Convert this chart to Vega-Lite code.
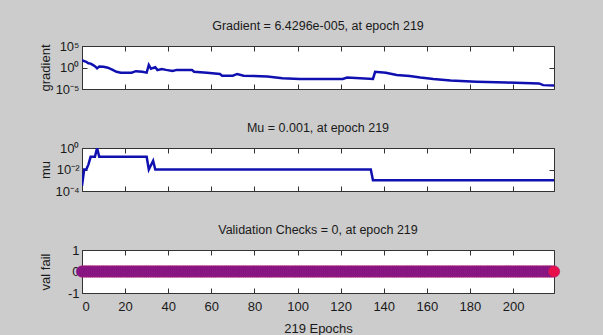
{
  "$schema": "https://vega.github.io/schema/vega-lite/v6.json",
  "background": "#cccccc",
  "padding": {"left": 38, "top": 19, "right": 49, "bottom": 2},
  "config": {
    "font": "Liberation Sans",
    "view": {"fill": "white", "stroke": "#333333", "strokeWidth": 1},
    "axis": {"grid": false, "domain": false, "tickColor": "#333333", "tickSize": -5, "tickWidth": 1, "labelColor": "#1a1a1a", "labelFont": "Liberation Sans", "labelFontSize": 13, "titleFont": "Liberation Sans", "titleFontSize": 13, "titleFontWeight": "normal", "titleColor": "#1a1a1a", "labelPadding": 8},
    "title": {"font": "Liberation Sans", "fontSize": 12.5, "fontWeight": "normal", "color": "#1a1a1a", "offset": 8},
    "concat": {"spacing": 24}
  },
  "datasets": {
    "grad": [
      {"epoch": 0, "gradient": 50}, {"epoch": 1, "gradient": 31.6}, {"epoch": 2, "gradient": 20}, {"epoch": 3, "gradient": 10},
      {"epoch": 4, "gradient": 7.9}, {"epoch": 5, "gradient": 4}, {"epoch": 6, "gradient": 2}, {"epoch": 7, "gradient": 0.63},
      {"epoch": 8, "gradient": 1.58}, {"epoch": 10, "gradient": 1.41}, {"epoch": 12, "gradient": 0.89}, {"epoch": 14, "gradient": 0.32},
      {"epoch": 16, "gradient": 0.1}, {"epoch": 18, "gradient": 0.063}, {"epoch": 23, "gradient": 0.063}, {"epoch": 25, "gradient": 0.141},
      {"epoch": 28, "gradient": 0.1}, {"epoch": 30, "gradient": 0.063}, {"epoch": 31, "gradient": 3.98}, {"epoch": 32, "gradient": 0.5},
      {"epoch": 33, "gradient": 0.79}, {"epoch": 34, "gradient": 1.12}, {"epoch": 35, "gradient": 0.25}, {"epoch": 37, "gradient": 0.45},
      {"epoch": 39, "gradient": 0.28}, {"epoch": 42, "gradient": 0.158}, {"epoch": 44, "gradient": 0.28}, {"epoch": 51, "gradient": 0.28},
      {"epoch": 52, "gradient": 0.1}, {"epoch": 58, "gradient": 0.063}, {"epoch": 64, "gradient": 0.0316}, {"epoch": 65, "gradient": 0.0126},
      {"epoch": 70, "gradient": 0.0126}, {"epoch": 72, "gradient": 0.0316}, {"epoch": 75, "gradient": 0.0126}, {"epoch": 86, "gradient": 0.0079},
      {"epoch": 93, "gradient": 0.00316}, {"epoch": 101, "gradient": 0.00224}, {"epoch": 121, "gradient": 0.00214}, {"epoch": 123, "gradient": 0.00447},
      {"epoch": 135, "gradient": 0.00214}, {"epoch": 136, "gradient": 0.1}, {"epoch": 141, "gradient": 0.063}, {"epoch": 146, "gradient": 0.0178},
      {"epoch": 152, "gradient": 0.01}, {"epoch": 157, "gradient": 0.00447}, {"epoch": 163, "gradient": 0.002}, {"epoch": 171, "gradient": 0.00089},
      {"epoch": 183, "gradient": 0.0005}, {"epoch": 197, "gradient": 0.000316}, {"epoch": 212, "gradient": 0.0002}, {"epoch": 214, "gradient": 0.0000794},
      {"epoch": 219, "gradient": 0.0000643}
    ],
    "mu": [
      {"epoch": 0, "mu": 0.0003}, {"epoch": 1, "mu": 0.01}, {"epoch": 2, "mu": 0.01}, {"epoch": 3, "mu": 0.03},
      {"epoch": 4, "mu": 0.15}, {"epoch": 6, "mu": 0.15}, {"epoch": 7, "mu": 1}, {"epoch": 8, "mu": 0.15},
      {"epoch": 30, "mu": 0.15}, {"epoch": 31, "mu": 0.01}, {"epoch": 33, "mu": 0.065}, {"epoch": 34, "mu": 0.01},
      {"epoch": 134, "mu": 0.01}, {"epoch": 135, "mu": 0.001}, {"epoch": 219, "mu": 0.001}
    ],
    "val": [
      {"epoch":0,"val_fail":0},{"epoch":1,"val_fail":0},{"epoch":2,"val_fail":0},{"epoch":3,"val_fail":0},{"epoch":4,"val_fail":0},{"epoch":5,"val_fail":0},{"epoch":6,"val_fail":0},{"epoch":7,"val_fail":0},{"epoch":8,"val_fail":0},{"epoch":9,"val_fail":0},
      {"epoch":10,"val_fail":0},{"epoch":11,"val_fail":0},{"epoch":12,"val_fail":0},{"epoch":13,"val_fail":0},{"epoch":14,"val_fail":0},{"epoch":15,"val_fail":0},{"epoch":16,"val_fail":0},{"epoch":17,"val_fail":0},{"epoch":18,"val_fail":0},{"epoch":19,"val_fail":0},
      {"epoch":20,"val_fail":0},{"epoch":21,"val_fail":0},{"epoch":22,"val_fail":0},{"epoch":23,"val_fail":0},{"epoch":24,"val_fail":0},{"epoch":25,"val_fail":0},{"epoch":26,"val_fail":0},{"epoch":27,"val_fail":0},{"epoch":28,"val_fail":0},{"epoch":29,"val_fail":0},
      {"epoch":30,"val_fail":0},{"epoch":31,"val_fail":0},{"epoch":32,"val_fail":0},{"epoch":33,"val_fail":0},{"epoch":34,"val_fail":0},{"epoch":35,"val_fail":0},{"epoch":36,"val_fail":0},{"epoch":37,"val_fail":0},{"epoch":38,"val_fail":0},{"epoch":39,"val_fail":0},
      {"epoch":40,"val_fail":0},{"epoch":41,"val_fail":0},{"epoch":42,"val_fail":0},{"epoch":43,"val_fail":0},{"epoch":44,"val_fail":0},{"epoch":45,"val_fail":0},{"epoch":46,"val_fail":0},{"epoch":47,"val_fail":0},{"epoch":48,"val_fail":0},{"epoch":49,"val_fail":0},
      {"epoch":50,"val_fail":0},{"epoch":51,"val_fail":0},{"epoch":52,"val_fail":0},{"epoch":53,"val_fail":0},{"epoch":54,"val_fail":0},{"epoch":55,"val_fail":0},{"epoch":56,"val_fail":0},{"epoch":57,"val_fail":0},{"epoch":58,"val_fail":0},{"epoch":59,"val_fail":0},
      {"epoch":60,"val_fail":0},{"epoch":61,"val_fail":0},{"epoch":62,"val_fail":0},{"epoch":63,"val_fail":0},{"epoch":64,"val_fail":0},{"epoch":65,"val_fail":0},{"epoch":66,"val_fail":0},{"epoch":67,"val_fail":0},{"epoch":68,"val_fail":0},{"epoch":69,"val_fail":0},
      {"epoch":70,"val_fail":0},{"epoch":71,"val_fail":0},{"epoch":72,"val_fail":0},{"epoch":73,"val_fail":0},{"epoch":74,"val_fail":0},{"epoch":75,"val_fail":0},{"epoch":76,"val_fail":0},{"epoch":77,"val_fail":0},{"epoch":78,"val_fail":0},{"epoch":79,"val_fail":0},
      {"epoch":80,"val_fail":0},{"epoch":81,"val_fail":0},{"epoch":82,"val_fail":0},{"epoch":83,"val_fail":0},{"epoch":84,"val_fail":0},{"epoch":85,"val_fail":0},{"epoch":86,"val_fail":0},{"epoch":87,"val_fail":0},{"epoch":88,"val_fail":0},{"epoch":89,"val_fail":0},
      {"epoch":90,"val_fail":0},{"epoch":91,"val_fail":0},{"epoch":92,"val_fail":0},{"epoch":93,"val_fail":0},{"epoch":94,"val_fail":0},{"epoch":95,"val_fail":0},{"epoch":96,"val_fail":0},{"epoch":97,"val_fail":0},{"epoch":98,"val_fail":0},{"epoch":99,"val_fail":0},
      {"epoch":100,"val_fail":0},{"epoch":101,"val_fail":0},{"epoch":102,"val_fail":0},{"epoch":103,"val_fail":0},{"epoch":104,"val_fail":0},{"epoch":105,"val_fail":0},{"epoch":106,"val_fail":0},{"epoch":107,"val_fail":0},{"epoch":108,"val_fail":0},{"epoch":109,"val_fail":0},
      {"epoch":110,"val_fail":0},{"epoch":111,"val_fail":0},{"epoch":112,"val_fail":0},{"epoch":113,"val_fail":0},{"epoch":114,"val_fail":0},{"epoch":115,"val_fail":0},{"epoch":116,"val_fail":0},{"epoch":117,"val_fail":0},{"epoch":118,"val_fail":0},{"epoch":119,"val_fail":0},
      {"epoch":120,"val_fail":0},{"epoch":121,"val_fail":0},{"epoch":122,"val_fail":0},{"epoch":123,"val_fail":0},{"epoch":124,"val_fail":0},{"epoch":125,"val_fail":0},{"epoch":126,"val_fail":0},{"epoch":127,"val_fail":0},{"epoch":128,"val_fail":0},{"epoch":129,"val_fail":0},
      {"epoch":130,"val_fail":0},{"epoch":131,"val_fail":0},{"epoch":132,"val_fail":0},{"epoch":133,"val_fail":0},{"epoch":134,"val_fail":0},{"epoch":135,"val_fail":0},{"epoch":136,"val_fail":0},{"epoch":137,"val_fail":0},{"epoch":138,"val_fail":0},{"epoch":139,"val_fail":0},
      {"epoch":140,"val_fail":0},{"epoch":141,"val_fail":0},{"epoch":142,"val_fail":0},{"epoch":143,"val_fail":0},{"epoch":144,"val_fail":0},{"epoch":145,"val_fail":0},{"epoch":146,"val_fail":0},{"epoch":147,"val_fail":0},{"epoch":148,"val_fail":0},{"epoch":149,"val_fail":0},
      {"epoch":150,"val_fail":0},{"epoch":151,"val_fail":0},{"epoch":152,"val_fail":0},{"epoch":153,"val_fail":0},{"epoch":154,"val_fail":0},{"epoch":155,"val_fail":0},{"epoch":156,"val_fail":0},{"epoch":157,"val_fail":0},{"epoch":158,"val_fail":0},{"epoch":159,"val_fail":0},
      {"epoch":160,"val_fail":0},{"epoch":161,"val_fail":0},{"epoch":162,"val_fail":0},{"epoch":163,"val_fail":0},{"epoch":164,"val_fail":0},{"epoch":165,"val_fail":0},{"epoch":166,"val_fail":0},{"epoch":167,"val_fail":0},{"epoch":168,"val_fail":0},{"epoch":169,"val_fail":0},
      {"epoch":170,"val_fail":0},{"epoch":171,"val_fail":0},{"epoch":172,"val_fail":0},{"epoch":173,"val_fail":0},{"epoch":174,"val_fail":0},{"epoch":175,"val_fail":0},{"epoch":176,"val_fail":0},{"epoch":177,"val_fail":0},{"epoch":178,"val_fail":0},{"epoch":179,"val_fail":0},
      {"epoch":180,"val_fail":0},{"epoch":181,"val_fail":0},{"epoch":182,"val_fail":0},{"epoch":183,"val_fail":0},{"epoch":184,"val_fail":0},{"epoch":185,"val_fail":0},{"epoch":186,"val_fail":0},{"epoch":187,"val_fail":0},{"epoch":188,"val_fail":0},{"epoch":189,"val_fail":0},
      {"epoch":190,"val_fail":0},{"epoch":191,"val_fail":0},{"epoch":192,"val_fail":0},{"epoch":193,"val_fail":0},{"epoch":194,"val_fail":0},{"epoch":195,"val_fail":0},{"epoch":196,"val_fail":0},{"epoch":197,"val_fail":0},{"epoch":198,"val_fail":0},{"epoch":199,"val_fail":0},
      {"epoch":200,"val_fail":0},{"epoch":201,"val_fail":0},{"epoch":202,"val_fail":0},{"epoch":203,"val_fail":0},{"epoch":204,"val_fail":0},{"epoch":205,"val_fail":0},{"epoch":206,"val_fail":0},{"epoch":207,"val_fail":0},{"epoch":208,"val_fail":0},{"epoch":209,"val_fail":0},
      {"epoch":210,"val_fail":0},{"epoch":211,"val_fail":0},{"epoch":212,"val_fail":0},{"epoch":213,"val_fail":0},{"epoch":214,"val_fail":0},{"epoch":215,"val_fail":0},{"epoch":216,"val_fail":0},{"epoch":217,"val_fail":0},{"epoch":218,"val_fail":0},{"epoch":219,"val_fail":0}
    ]
  },
  "vconcat": [
    {
      "width": 472, "height": 43,
      "title": "Gradient = 6.4296e-005, at epoch 219",
      "data": {"name": "grad"},
      "layer": [
        {
          "mark": {"type": "line", "color": "#1010b0", "strokeWidth": 2.5, "clip": true},
          "encoding": {
            "x": {"field": "epoch", "type": "quantitative", "scale": {"domain": [0, 219], "nice": false, "zero": false},
                  "axis": {"orient": "bottom", "values": [0, 20, 40, 60, 80, 100, 120, 140, 160, 180, 200], "labels": false, "title": null}},
            "y": {"field": "gradient", "type": "quantitative", "scale": {"type": "log", "domain": [0.00001, 100000], "nice": false},
                  "axis": {"orient": "left", "values": [0.00001, 1, 100000], "labelExpr": "datum.value > 10 ? '10⁵' : datum.value > 0.1 ? '10⁰' : '10⁻⁵'", "title": "gradient", "titleX": -30}}
          }
        },
        {
          "mark": {"type": "line", "opacity": 0},
          "encoding": {
            "x": {"field": "epoch", "type": "quantitative", "axis": {"orient": "top", "values": [0, 20, 40, 60, 80, 100, 120, 140, 160, 180, 200], "labels": false, "title": null}},
            "y": {"field": "gradient", "type": "quantitative", "axis": {"orient": "right", "values": [0.00001, 1, 100000], "labels": false, "title": null}}
          }
        }
      ],
      "resolve": {"axis": {"x": "independent", "y": "independent"}}
    },
    {
      "width": 472, "height": 43,
      "title": "Mu = 0.001, at epoch 219",
      "data": {"name": "mu"},
      "layer": [
        {
          "mark": {"type": "line", "color": "#1010b0", "strokeWidth": 2.5, "clip": true},
          "encoding": {
            "x": {"field": "epoch", "type": "quantitative", "scale": {"domain": [0, 219], "nice": false, "zero": false},
                  "axis": {"orient": "bottom", "values": [0, 20, 40, 60, 80, 100, 120, 140, 160, 180, 200], "labels": false, "title": null}},
            "y": {"field": "mu", "type": "quantitative", "scale": {"type": "log", "domain": [0.0001, 1], "nice": false},
                  "axis": {"orient": "left", "values": [0.0001, 0.01, 1], "labelExpr": "datum.value > 0.1 ? '10⁰' : datum.value > 0.001 ? '10⁻²' : '10⁻⁴'", "title": "mu", "titleX": -30}}
          }
        },
        {
          "mark": {"type": "line", "opacity": 0},
          "encoding": {
            "x": {"field": "epoch", "type": "quantitative", "axis": {"orient": "top", "values": [0, 20, 40, 60, 80, 100, 120, 140, 160, 180, 200], "labels": false, "title": null}},
            "y": {"field": "mu", "type": "quantitative", "axis": {"orient": "right", "values": [0.0001, 0.01, 1], "labels": false, "title": null}}
          }
        }
      ],
      "resolve": {"axis": {"x": "independent", "y": "independent"}}
    },
    {
      "width": 472, "height": 43,
      "title": "Validation Checks = 0, at epoch 219",
      "data": {"name": "val"},
      "layer": [
        {
          "mark": {"type": "point", "filled": true, "shape": "circle", "size": 130, "stroke": "#a81c74", "strokeWidth": 0.6, "opacity": 1},
          "encoding": {
            "x": {"field": "epoch", "type": "quantitative", "scale": {"domain": [0, 219], "nice": false, "zero": false},
                  "axis": {"orient": "bottom", "values": [0, 20, 40, 60, 80, 100, 120, 140, 160, 180, 200], "title": "219 Epochs", "labelPadding": 12, "titlePadding": 9}},
            "y": {"field": "val_fail", "type": "quantitative", "scale": {"domain": [-1, 1], "nice": false, "zero": false},
                  "axis": {"orient": "left", "values": [-1, 0, 1], "labelExpr": "datum.value > 0.5 ? '1' : datum.value > -0.5 ? '0' : '-1'", "title": "val fail", "titleX": -30}},
            "color": {"condition": {"test": "datum.epoch === 219", "value": "#e8104a"}, "value": "#7c1488"}
          }
        },
        {
          "mark": {"type": "point", "opacity": 0},
          "encoding": {
            "x": {"field": "epoch", "type": "quantitative", "axis": {"orient": "top", "values": [0, 20, 40, 60, 80, 100, 120, 140, 160, 180, 200], "labels": false, "title": null}},
            "y": {"field": "val_fail", "type": "quantitative", "axis": {"orient": "right", "values": [-1, 0, 1], "labels": false, "title": null}}
          }
        }
      ],
      "resolve": {"axis": {"x": "independent", "y": "independent"}}
    }
  ]
}
